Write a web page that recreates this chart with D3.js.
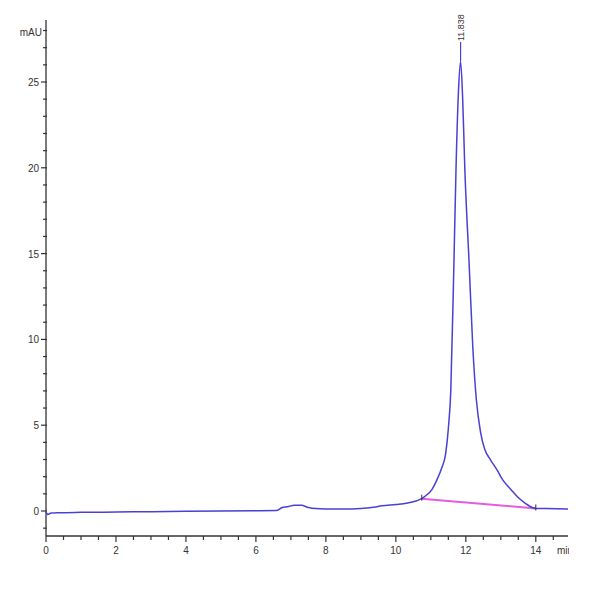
<!DOCTYPE html>
<html><head><meta charset="utf-8">
<script src="https://cdn.jsdelivr.net/npm/d3@7"></script>
<style>body{margin:0;background:#fff}svg{display:block}text{font-family:"Liberation Sans Narrow","Liberation Sans",Arial,sans-serif;fill:#333}</style>
</head><body>
<svg id="c" width="600" height="600"></svg>
<script>
const times = [0,0.05,0.15,0.4,1,2,3,4,5,6,6.6,6.75,6.9,7.1,7.3,7.5,7.7,8,8.5,9,9.3,9.6,10,10.3,10.6,10.74,10.83,11.03,11.17,11.31,11.42,11.5,11.57,11.66,11.72,11.79,11.85,11.91,11.97,12.09,12.2,12.3,12.42,12.54,12.7,12.89,13.06,13.31,13.49,13.7,13.85,14.0,14.3,14.6,14.92];
const signal = [-0.05,-0.2,-0.12,-0.1,-0.08,-0.06,-0.04,-0.02,0,0.02,0.03,0.2,0.25,0.33,0.33,0.2,0.14,0.12,0.12,0.15,0.2,0.3,0.38,0.45,0.6,0.72,0.85,1.25,1.8,2.5,3.3,4.8,7.0,14.5,20,24.5,26.2,24,20,14.6,9.5,6.5,4.6,3.6,3.0,2.4,1.8,1.2,0.8,0.45,0.25,0.15,0.14,0.13,0.12];
const baselineT = [10.74, 14.0];
const baselineV = [0.72, 0.15];
const peakLabel = "11.838";
const peakTime = 11.85, peakValue = 26.2;
const xTicks = [0,2,4,6,8,10,12,14];
const yTicks = [0,5,10,15,20,25];

const svg = d3.select("#c");
const x = d3.scaleLinear().domain([0,14.92]).range([46,568]);
const y = d3.scaleLinear().domain([0,25]).range([511,82]);

// X axis
const xa = svg.append("g").attr("transform","translate(0,536)");
xa.append("line").attr("x1",46).attr("x2",568).attr("stroke","#333").attr("stroke-width",1.3);
const xMinor = d3.range(0,15,0.5);
xa.selectAll("line.mn").data(xMinor).join("line").attr("class","mn")
  .attr("x1",d=>x(d)).attr("x2",d=>x(d)).attr("y1",0).attr("y2",d=>d%2===0?6:4)
  .attr("stroke","#333").attr("stroke-width",1.2);
xa.selectAll("text").data(xTicks).join("text")
  .attr("x",d=>x(d)).attr("y",18).attr("text-anchor","middle").attr("font-size",10).text(d=>d);
svg.append("clipPath").attr("id","cp").append("rect").attr("x",0).attr("y",0).attr("width",569).attr("height",600);
svg.append("text").attr("x",557).attr("y",554).attr("font-size",10).attr("clip-path","url(#cp)").text("min");

// Y axis
const ya = svg.append("g");
ya.append("line").attr("x1",46).attr("x2",46).attr("y1",20).attr("y2",536).attr("stroke","#333").attr("stroke-width",1.3);
const yMinor = d3.range(-1,29,1);
ya.selectAll("line.mn").data(yMinor).join("line").attr("class","mn")
  .attr("x1",d=>d%5===0?41:43).attr("x2",47).attr("y1",d=>y(d)).attr("y2",d=>y(d))
  .attr("stroke","#333").attr("stroke-width",1.2);
ya.selectAll("text").data(yTicks).join("text")
  .attr("x",39).attr("y",d=>y(d)+4).attr("text-anchor","end").attr("font-size",10).text(d=>d);
svg.append("text").attr("x",42).attr("y",36).attr("text-anchor","end").attr("font-size",10).text("mAU");

// baseline (pink)
svg.append("path").datum(baselineT.map((t,i)=>[t,baselineV[i]]))
  .attr("d",d3.line().x(d=>x(d[0])).y(d=>y(d[1])))
  .attr("fill","none").attr("stroke","#e55ce0").attr("stroke-width",2);

// signal
svg.append("path").datum(times.map((t,i)=>[t,signal[i]]))
  .attr("d",d3.line().x(d=>x(d[0])).y(d=>y(d[1])).curve(d3.curveMonotoneX))
  .attr("fill","none").attr("stroke","#4a3fd6").attr("stroke-width",1.5);

// peak markers
baselineT.forEach((t,i)=>{
  svg.append("line").attr("x1",x(t)).attr("x2",x(t)).attr("y1",y(baselineV[i])-4).attr("y2",y(baselineV[i])+2)
    .attr("stroke","#333").attr("stroke-width",1);
});
svg.append("line").attr("x1",x(peakTime)).attr("x2",x(peakTime)).attr("y1",42).attr("y2",y(peakValue))
  .attr("stroke","#4a3fd6").attr("stroke-width",1.2);
svg.append("text").attr("transform",`translate(${x(peakTime)+3},41) rotate(-90)`)
  .attr("font-size",9).attr("text-anchor","start").text(peakLabel);
</script>
</body></html>
